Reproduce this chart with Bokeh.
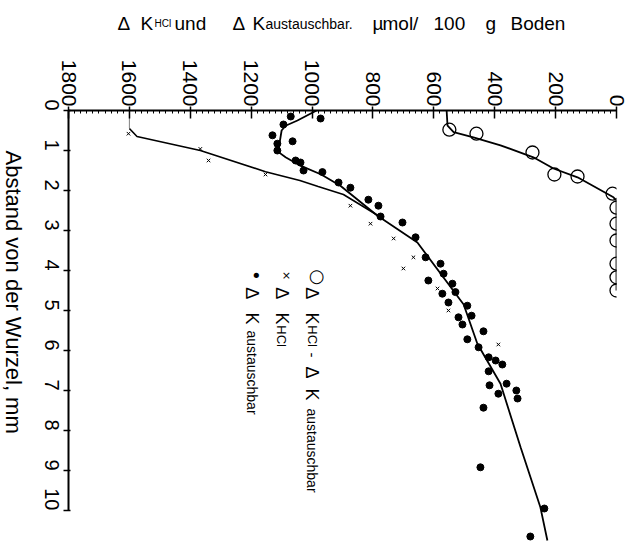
import math
from bokeh.plotting import figure
from bokeh.models import Range1d, FixedTicker, Label
from bokeh.layouts import column, row
from bokeh.core.properties import value
from bokeh.embed import file_html
from bokeh.resources import INLINE

# ---------------- data (value in µmol/100 g Boden, distance in mm) ----------------
x_ticks = [0, 200, 400, 600, 800, 1000, 1200, 1400, 1600, 1800]
y_ticks = [0, 1, 2, 3, 4, 5, 6, 7, 8, 9, 10]

# open circles: ΔK_HCl - ΔK_austauschbar
circ_val = [549, 460, 276, 204, 128, 13, 0, 0, 0, 0, 0, 0]
circ_dist = [0.48, 0.58, 1.05, 1.6, 1.65, 2.08, 2.43, 2.83, 3.25, 3.83, 4.17, 4.5]
circ_fit_val = [558, 555, 535, 470, 381, 273, 207, 128, 10, 0, 0]
circ_fit_dist = [0.0, 0.38, 0.54, 0.67, 0.87, 1.17, 1.45, 1.67, 2.17, 2.25, 4.5]

# crosses: ΔK_HCl
cross_val = [1603, 1367, 1340, 1153, 874, 808, 732, 667, 700, 588, 552, 388]
cross_dist = [0.58, 0.96, 1.25, 1.6, 2.38, 2.83, 3.2, 3.67, 3.95, 4.45, 5.0, 5.85]
cross_fit_val = [1600, 1600, 1575, 1367, 1153, 1040, 980, 897, 785]
cross_fit_dist = [0.0, 0.45, 0.65, 1.0, 1.53, 1.75, 1.9, 2.1, 2.62]

# dots: ΔK_austauschbar
dot_val = [972, 1070, 1094, 1130, 1064, 1114, 1114, 1054, 1038, 1028, 966, 913, 874,
           815, 782, 775, 703, 660, 627, 578, 568, 618, 539, 529, 572, 552, 490,
           519, 476, 506, 437, 490, 453, 420, 397, 375, 420, 361, 417, 388, 329,
           325, 437, 447, 237, 283]
dot_dist = [0.2, 0.15, 0.35, 0.62, 0.77, 0.83, 1.0, 1.25, 1.3, 1.5, 1.54, 1.8, 1.93,
            2.23, 2.38, 2.65, 2.8, 3.17, 3.67, 3.83, 4.08, 4.25, 4.33, 4.54, 4.58, 4.8, 4.88,
            5.17, 5.13, 5.35, 5.52, 5.72, 5.92, 6.17, 6.25, 6.35, 6.52, 6.83, 6.87, 7.08, 7.0,
            7.2, 7.43, 8.92, 9.95, 10.65]
dot_fit_val = [985, 1048, 1087, 1100, 1107, 1110, 1087, 1038, 970, 907, 785, 654,
               502, 457, 381, 315, 250, 227]
dot_fit_dist = [0.0, 0.25, 0.38, 0.5, 0.83, 1.04, 1.17, 1.38, 1.6, 1.88, 2.63, 3.3,
                4.85, 5.83, 6.83, 8.42, 9.92, 10.75]

y_title = "Abstand von der Wurzel, mm"
x_title_parts = ["Δ", "K", "HCl", "und", "Δ", "K", "austauschbar.",
                 "µ", "mol/", "100", "g", "Boden"]

W, H = 638, 543
TOP_H, LEFT_W = 40, 26
FRAME_TOP, FRAME_BOTTOM = 110, H - 1
FONT = "Liberation Sans"


def blank_fig(w, h, xr, yr):
    f = figure(width=w, height=h, output_backend="svg", toolbar_location=None,
               x_range=xr, y_range=yr, x_axis_type=None, y_axis_type=None,
               title=None, min_border=0, min_border_left=0, min_border_right=0,
               min_border_top=0, min_border_bottom=0)
    f.outline_line_color = None
    f.grid.visible = False
    f.background_fill_color = "white"
    f.border_fill_color = "white"
    return f


# ---------------- top strip: axis title (horizontal, mixed sizes) ----------------
top = blank_fig(W, TOP_H, Range1d(0, W), Range1d(TOP_H, 0))
title_x = [117, 140, 154, 174, 232, 252, 265, 372, 382, 433, 485, 510]
title_size = ["19px", "19px", "10px", "19px", "19px", "19px", "14px",
              "19px", "19px", "19px", "19px", "19px"]
top.text(x=title_x, y=[23] * len(title_x), text=x_title_parts,
         text_font=value(FONT), text_font_size=title_size, text_color="black",
         text_align="left", text_baseline="alphabetic")

# ---------------- left strip: distance axis title (rotated, reads downwards) ----------------
# (its plot frame is aligned with the main frame by the row layout)
left = blank_fig(LEFT_W, H - TOP_H, Range1d(0, LEFT_W), Range1d(FRAME_BOTTOM, FRAME_TOP))
left.text(x=[13], y=[150], text=[y_title], angle=-math.pi / 2,
          text_font=value(FONT), text_font_size="22px", text_color="black",
          text_align="left", text_baseline="middle")

# ---------------- main chart ----------------
p = figure(width=W - LEFT_W, height=H - TOP_H, output_backend="svg",
           toolbar_location=None,
           x_range=Range1d(1800, 0), y_range=Range1d(10.8, 0),
           x_axis_location="above", title=None,
           min_border_left=68 - LEFT_W, min_border_right=22,
           min_border_top=FRAME_TOP - TOP_H, min_border_bottom=1)
p.outline_line_color = None
p.grid.visible = False
p.background_fill_color = "white"
p.border_fill_color = "white"

xa = p.xaxis[0]
xa.ticker = FixedTicker(ticks=x_ticks,
                        minor_ticks=[v for v in range(0, 1801, 20) if v % 200])
xa.major_label_orientation = -math.pi / 2
xa.major_label_text_font = FONT
xa.major_label_text_font_size = "21px"
xa.major_label_text_color = "black"
xa.major_label_standoff = 0
xa.axis_line_width = 2
xa.axis_line_color = "black"
xa.major_tick_in = 8
xa.major_tick_out = 4
xa.major_tick_line_width = 1.5
xa.minor_tick_in = 3
xa.minor_tick_out = 0
xa.minor_tick_line_color = "black"

ya = p.yaxis[0]
ya.ticker = FixedTicker(ticks=y_ticks, minor_ticks=[])
ya.bounds = (0, 10)
ya.major_label_orientation = -math.pi / 2
ya.major_label_text_font = FONT
ya.major_label_text_font_size = "20px"
ya.major_label_text_color = "black"
ya.major_label_standoff = 12
ya.axis_line_width = 2
ya.axis_line_color = "black"
ya.major_tick_in = 2
ya.major_tick_out = 5
ya.major_tick_line_width = 1.5
ya.minor_tick_line_color = None

# fitted curves
p.line(circ_fit_val, circ_fit_dist, line_color="black", line_width=1.8)
p.line(cross_fit_val[:2], cross_fit_dist[:2], line_color="black", line_width=1,
       line_dash="1 1")
p.line(cross_fit_val[1:], cross_fit_dist[1:], line_color="black", line_width=1.6)
p.line(dot_fit_val, dot_fit_dist, line_color="black", line_width=1.8)

# measured points
p.scatter(circ_val, circ_dist, marker="circle", size=13, fill_color=None,
          line_color="black", line_width=1.3)
p.scatter(cross_val, cross_dist, marker="x", size=5, line_color="black", line_width=1)
p.scatter(dot_val, dot_dist, marker="circle", size=7, fill_color="black",
          line_color="black")

# legend (rotated, inside the frame)
ROT = -math.pi / 2
for sym, xv, fs in [("○", 985, "18px"), ("×", 1084, "11px"), ("•", 1183, "18px")]:
    p.add_layout(Label(x=xv, y=4.125, text=sym, text_font="DejaVu Sans",
                       text_font_size=fs, text_color="black",
                       text_align="center", text_baseline="middle"))

legend_parts = [
    (1000, 4.42, "Δ", 18), (1000, 5.05, "K", 18), (1000, 5.37, "HCl", 13),
    (1000, 6.05, "-", 15), (1000, 6.4, "Δ", 18), (1000, 6.95, "K", 18),
    (1000, 7.45, "austauschbar", 14),
    (1099, 4.42, "Δ", 18), (1099, 5.05, "K", 18), (1099, 5.37, "HCl", 13),
    (1198, 4.42, "Δ", 18), (1198, 5.05, "K", 18), (1198, 5.5, "austauschbar", 14),
]
for xv, yv, txt, fs in legend_parts:
    p.add_layout(Label(x=xv, y=yv, text=txt, angle=ROT, text_font=FONT,
                       text_font_size=f"{fs}px", text_color="black",
                       text_align="left", text_baseline="alphabetic"))

layout = column(top, row(left, p, spacing=0), spacing=0)
open("out.html", "w").write(file_html(layout, INLINE))
